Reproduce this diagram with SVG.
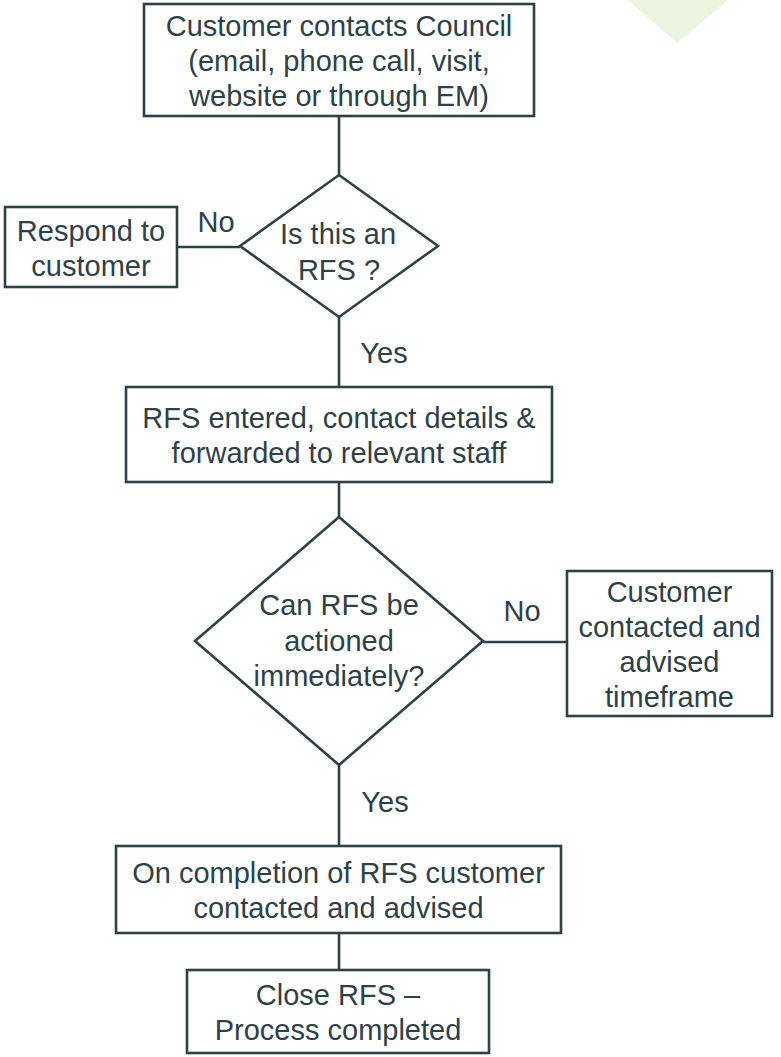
<svg xmlns="http://www.w3.org/2000/svg" width="781" height="1057" viewBox="0 0 781 1057">
<style>
.box{fill:#fff;stroke:#2E4147;stroke-width:2.6}
.ln{fill:none;stroke:#2E4147;stroke-width:2.6}
text{font-family:"Liberation Sans",Arial,sans-serif;font-size:29px;fill:#2E4147;text-anchor:middle}
</style>
<rect width="781" height="1057" fill="#fff"/>
<polygon points="628,0 728,0 677,43" fill="#EAF4DE"/>
<g id="connectors">
<line class="ln" x1="339" y1="116" x2="339" y2="175"/>
<line class="ln" x1="177" y1="247" x2="240" y2="247"/>
<line class="ln" x1="339" y1="317" x2="339" y2="387"/>
<line class="ln" x1="339" y1="482" x2="339" y2="517"/>
<line class="ln" x1="483" y1="642" x2="567" y2="642"/>
<line class="ln" x1="339" y1="765" x2="339" y2="846"/>
<line class="ln" x1="339" y1="933" x2="339" y2="970"/>
<text x="216" y="232">No</text>
<text x="384" y="363">Yes</text>
<text x="522" y="621">No</text>
<text x="385" y="812">Yes</text>
</g>
<g id="start">
<rect class="box" x="144" y="4" width="390" height="112"/>
<text x="339" y="35.5">Customer contacts Council</text>
<text x="339" y="70.5">(email, phone call, visit,</text>
<text x="339" y="105.5">website or through EM)</text>
</g>
<g id="isRFS">
<polygon class="box" points="339,175 438,246 339,317 240,246"/>
<text x="338" y="244">Is this an</text>
<text x="339" y="280">RFS ?</text>
</g>
<g id="respond">
<rect class="box" x="5" y="207" width="172" height="80"/>
<text x="91" y="240.5">Respond to</text>
<text x="91" y="275.5">customer</text>
</g>
<g id="entered">
<rect class="box" x="126" y="387" width="426" height="95"/>
<text x="339" y="427.5">RFS entered, contact details &amp;</text>
<text x="339" y="462.5">forwarded to relevant staff</text>
</g>
<g id="canAction">
<polygon class="box" points="339,517 483,641 339,765 195,641"/>
<text x="339" y="615">Can RFS be</text>
<text x="339" y="651">actioned</text>
<text x="339" y="686">immediately?</text>
</g>
<g id="timeframe">
<rect class="box" x="567" y="571" width="205" height="145"/>
<text x="669.5" y="602">Customer</text>
<text x="669.5" y="637">contacted and</text>
<text x="669.5" y="672">advised</text>
<text x="669.5" y="707">timeframe</text>
</g>
<g id="completion">
<rect class="box" x="116" y="846" width="445" height="87"/>
<text x="338.5" y="882.5">On completion of RFS customer</text>
<text x="338.5" y="917.5">contacted and advised</text>
</g>
<g id="close">
<rect class="box" x="187" y="970" width="302" height="83"/>
<text x="338" y="1004.5">Close RFS –</text>
<text x="338" y="1039.5">Process completed</text>
</g>
</svg>
